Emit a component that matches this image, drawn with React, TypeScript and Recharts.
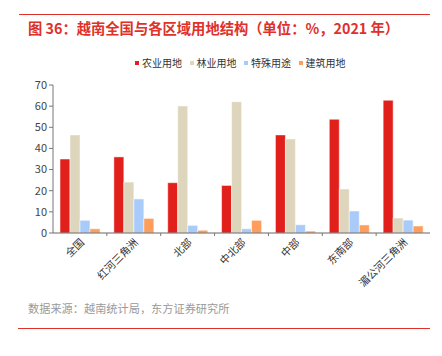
import React from "react";
import { BarChart, Bar, XAxis, YAxis } from "recharts";

const regions = ["全国", "红河三角洲", "北部", "中北部", "中部", "东南部", "湄公河三角洲"];
const agriculture = [35, 36, 23.8, 22.5, 46.4, 53.8, 62.8];
const forestry = [46.4, 24.1, 60.1, 62.1, 44.5, 20.8, 7.1];
const special = [6, 16.1, 3.6, 2, 3.9, 10.4, 6.1];
const construction = [2, 6.9, 1.3, 6, 0.9, 3.8, 3.3];
const yTicks = [0, 10, 20, 30, 40, 50, 60, 70];

const seriesNames = ["农业用地", "林业用地", "特殊用途", "建筑用地"];
const seriesColors = ["#e2201b", "#ded5bd", "#a9cbfa", "#fe9d5c"];

const data = regions.map((name, i) => ({
  name,
  农业用地: agriculture[i],
  林业用地: forestry[i],
  特殊用途: special[i],
  建筑用地: construction[i],
}));

const FONT = '"Noto Sans CJK SC", "Noto Sans", sans-serif';
const PLOT_W = 377;
const BAND = PLOT_W / regions.length;

const RegionTick = (props: any) => {
  const { x, y, payload, index } = props;
  return (
    <g>
      {index < regions.length - 1 && (
        <line x1={x + BAND / 2} x2={x + BAND / 2} y1={y} y2={y + 3} stroke="#777" />
      )}
      <text
        x={x + 3}
        y={y + 8}
        textAnchor="end"
        transform={`rotate(-45, ${x + 3}, ${y + 8})`}
        fontSize={10.5}
        fill="#333"
        fontFamily={FONT}
        dominantBaseline="middle"
      >
        {payload.value}
      </text>
    </g>
  );
};

export default function App() {
  return (
    <div
      style={{
        position: "absolute",
        left: 0,
        top: 0,
        width: 442,
        height: 356,
        background: "#fff",
        fontFamily: FONT,
      }}
    >
      <div style={{ position: "absolute", left: 19, top: 14, width: 411, height: 1, background: "#e0302a" }} />
      <div
        style={{
          position: "absolute",
          left: 28,
          top: 17,
          fontSize: 14.3,
          fontWeight: 700,
          color: "#e0302a",
          whiteSpace: "nowrap",
        }}
      >
        图 36：越南全国与各区域用地结构（单位：%，2021 年）
      </div>
      {/* legend */}
      <div style={{ position: "absolute", left: 135, top: 55, display: "flex", fontSize: 10, color: "#333" }}>
        {seriesNames.map((n, i) => (
          <div key={n} style={{ display: "flex", alignItems: "center", width: 54.5, whiteSpace: "nowrap" }}>
            <span style={{ width: 4, height: 4, background: seriesColors[i], marginRight: 3 }} />
            {n}
          </div>
        ))}
      </div>
      <BarChart
        width={442}
        height={356}
        data={data}
        margin={{ top: 85, right: 12, bottom: 93, left: 23 }}
        barCategoryGap="13%"
        barGap={0}
      >
        <YAxis
          width={30}
          domain={[0, 70]}
          ticks={yTicks}
          interval={0}
          tick={{ fontSize: 11, fill: "#444", fontFamily: FONT }}
          tickSize={4}
          stroke="#777"
        />
        <XAxis
          dataKey="name"
          height={30}
          interval={0}
          tickSize={0}
          tickMargin={0}
          tickLine={false}
          stroke="#666"
          tick={<RegionTick />}
        />
        {seriesNames.map((n, i) => (
          <Bar key={n} dataKey={n} fill={seriesColors[i]} stroke="#fff" strokeWidth={0.5} isAnimationActive={false} />
        ))}
      </BarChart>
      <div style={{ position: "absolute", left: 28, top: 300, fontSize: 11.2, color: "#999", whiteSpace: "nowrap" }}>
        数据来源：越南统计局，东方证券研究所
      </div>
      <div style={{ position: "absolute", left: 18, top: 328, width: 412, height: 1, background: "#e0302a" }} />
    </div>
  );
}
